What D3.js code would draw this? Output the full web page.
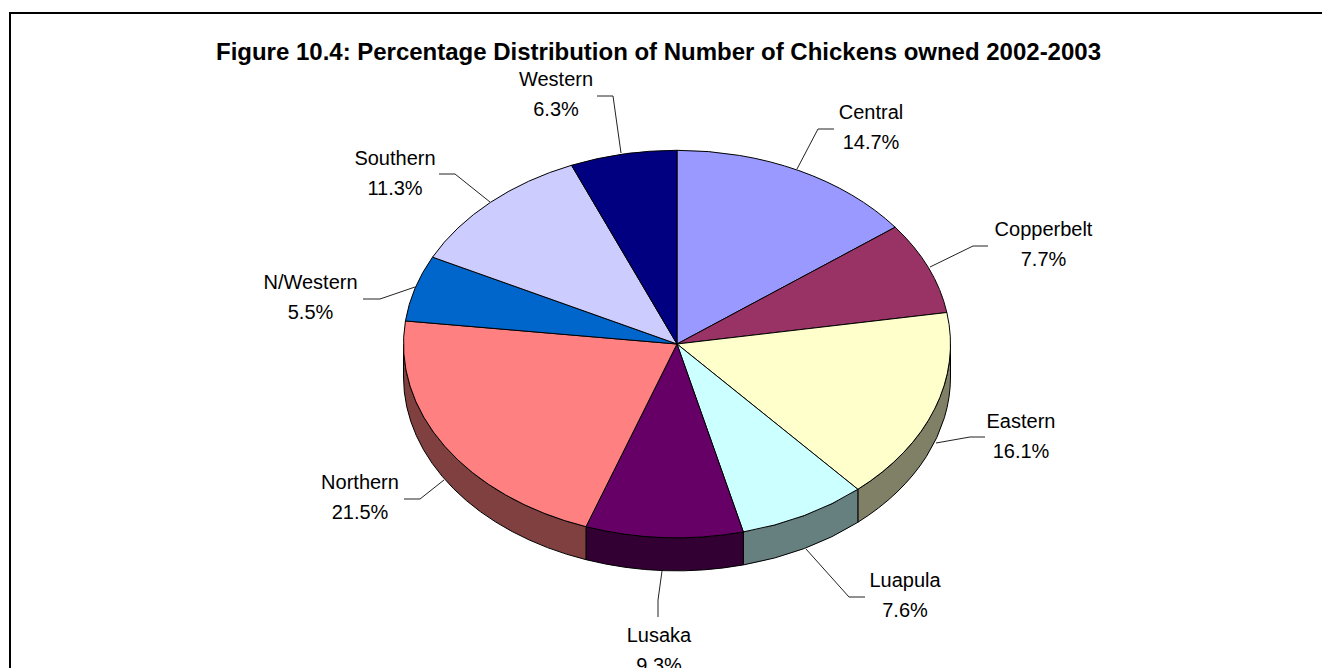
<!DOCTYPE html>
<html>
<head>
<meta charset="utf-8">
<script src="https://cdn.jsdelivr.net/npm/d3@7"></script>
<style>
html, body { margin: 0; padding: 0; background: #fff; overflow: hidden; }
text { font-family: "Liberation Sans", Arial, sans-serif; fill: #000; }
</style>
</head>
<body>
<div id="chart"></div>
<script>
// Data
const provinces = ["Central", "Copperbelt", "Eastern", "Luapula", "Lusaka", "Northern", "N/Western", "Southern", "Western"];
const shares = [14.7, 7.7, 16.1, 7.6, 9.3, 21.5, 5.5, 11.3, 6.3];
const sliceColors = ["#9999ff", "#993366", "#ffffcc", "#ccffff", "#660066", "#ff8080", "#0066cc", "#ccccff", "#000080"];
const sideColors = ["#4d4d80", "#4d1a33", "#808066", "#668080", "#330033", "#804040", "#003366", "#666680", "#000040"];

const svgW = 1322, svgH = 668;
const cx = 677, cy = 344, rx = 273.5, ry = 193.7, depth = 33;

const svg = d3.select("#chart").append("svg")
    .attr("width", svgW)
    .attr("height", svgH)
    .style("display", "block");

// Frame: the right and bottom edges fall outside the crop
svg.append("path")
    .attr("d", `M10,${svgH} V13 H${svgW}`)
    .attr("fill", "none")
    .attr("stroke", "#000")
    .attr("stroke-width", 2);

svg.append("text")
    .attr("x", 658.5)
    .attr("y", 60)
    .attr("text-anchor", "middle")
    .style("font-size", "24px")
    .style("font-weight", "bold")
    .attr("textLength", 885)
    .attr("lengthAdjust", "spacing")
    .text("Figure 10.4: Percentage Distribution of Number of Chickens owned 2002-2003");

const pie = d3.pie().sort(null)(shares);
const px = a => cx + rx * Math.sin(a);
const py = a => cy - ry * Math.cos(a);

// Side wall, only the part of each slice facing the viewer
const g = svg.append("g");
pie.forEach((d, i) => {
    const a0 = Math.max(d.startAngle, Math.PI / 2);
    const a1 = Math.min(d.endAngle, Math.PI * 1.5);
    if (a1 <= a0) return;
    g.append("path")
        .attr("d", `M${px(a0)},${py(a0)} A${rx},${ry} 0 0 1 ${px(a1)},${py(a1)}` +
            ` L${px(a1)},${py(a1) + depth} A${rx},${ry} 0 0 0 ${px(a0)},${py(a0) + depth} Z`)
        .attr("fill", sideColors[i])
        .attr("stroke", "#000")
        .attr("stroke-width", 1);
});

// Top face
pie.forEach((d, i) => {
    const large = d.endAngle - d.startAngle > Math.PI ? 1 : 0;
    g.append("path")
        .attr("d", `M${cx},${cy} L${px(d.startAngle)},${py(d.startAngle)}` +
            ` A${rx},${ry} 0 ${large} 1 ${px(d.endAngle)},${py(d.endAngle)} Z`)
        .attr("fill", sliceColors[i])
        .attr("stroke", "#000")
        .attr("stroke-width", 1);
});

// Labels and their leader lines, positions follow the picture
const labelX = [871, 1043.5, 1021, 905, 659, 360, 310.5, 395, 556];
const labelY = [119, 236, 428, 587, 642, 489, 289, 165, 86];
const leaders = [
    [[797, 169], [818, 129], [834, 129]],
    [[930, 267], [973, 246], [988, 246]],
    [[936, 443], [970, 437], [985, 437]],
    [[806, 549], [849, 597], [865, 597]],
    [[662, 571], [658, 600], [658, 617]],
    [[444, 480], [420, 499], [404, 499]],
    [[415, 287], [380, 299], [363, 299]],
    [[490, 202], [455, 174], [439, 174]],
    [[621, 153], [613, 96], [597, 96]]
];

const line = d3.line();
leaders.forEach(pts => {
    svg.append("path")
        .attr("d", line(pts))
        .attr("fill", "none")
        .attr("stroke", "#222")
        .attr("stroke-width", 1);
});

provinces.forEach((name, i) => {
    const t = svg.append("text")
        .attr("text-anchor", "middle")
        .style("font-size", "20px");
    t.append("tspan").attr("x", labelX[i]).attr("y", labelY[i]).text(name);
    t.append("tspan").attr("x", labelX[i]).attr("y", labelY[i] + 29.5).text(shares[i].toFixed(1) + "%");
});
</script>
</body>
</html>
